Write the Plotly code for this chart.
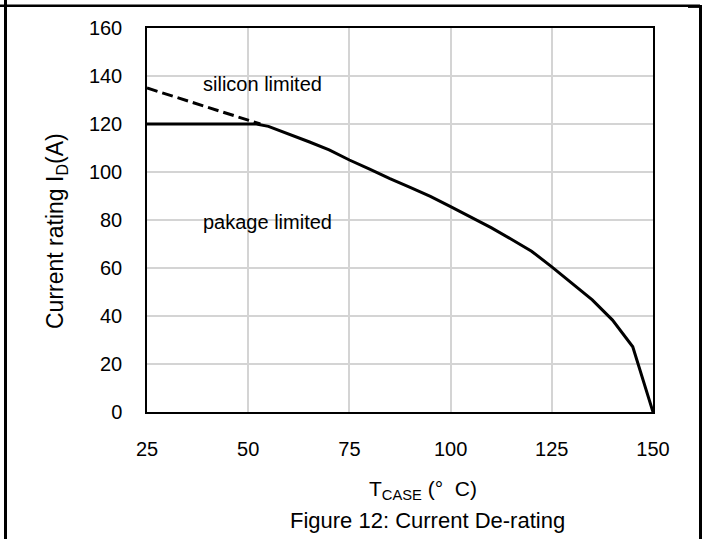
import plotly.graph_objects as go

# ---- data ----
t_package = [25, 52, 55, 60, 65, 70, 75, 80, 85, 90, 95, 100, 105, 110, 115, 120, 125, 130, 135, 140, 145, 150]
i_package = [120, 120, 119, 115.9, 112.6, 109.2, 105, 101.2, 97.2, 93.6, 89.8, 85.6, 81.3, 76.8, 72, 67, 60.5, 53.5, 46.7, 38.3, 27.2, 0]
t_silicon = [25, 53]
i_silicon = [135, 120]
x_ticks = [25, 50, 75, 100, 125, 150]
y_ticks = [0, 20, 40, 60, 80, 100, 120, 140, 160]

W, H = 703, 539
L, R, T, B = 147, 50, 28, 127
PW, PH = W - L - R, H - T - B


def px(x):
    return (x - L) / PW


def py(y):
    return (H - B - y) / PH


FONT = "Liberation Sans, Arial, sans-serif"

fig = go.Figure()
fig.add_trace(go.Scatter(x=t_silicon, y=i_silicon, mode="lines",
                         line=dict(color="black", width=3, dash="11px,5px"),
                         showlegend=False, hoverinfo="skip"))
fig.add_trace(go.Scatter(x=t_package, y=i_package, mode="lines",
                         line=dict(color="black", width=3),
                         showlegend=False, hoverinfo="skip"))

fig.update_layout(
    width=W, height=H, autosize=False,
    margin=dict(l=L, r=R, t=T, b=B, pad=0),
    paper_bgcolor="white", plot_bgcolor="white",
    template="none",
    font=dict(family=FONT, size=20, color="black"),
    xaxis=dict(range=[25, 150], tickvals=x_ticks, showgrid=True, gridcolor="#d4d4d4",
               gridwidth=1.5, zeroline=False, showline=True, linecolor="black",
               linewidth=1.5, mirror=True, ticks="", ticklabelstandoff=18,
               automargin=False, tickfont=dict(size=20)),
    yaxis=dict(range=[0, 160], tickvals=y_ticks, showgrid=True, gridcolor="#d4d4d4",
               gridwidth=1.5, zeroline=False, showline=True, linecolor="black",
               linewidth=1.5, mirror=True, ticks="", ticklabelstandoff=19,
               automargin=False, tickfont=dict(size=20)),
)

ann = [
    dict(text="silicon limited", x=px(262), y=py(84), size=20, angle=0),
    dict(text="pakage limited", x=px(267), y=py(222), size=20, angle=0),
    dict(text="T<sub>CASE</sub> (°  C)", x=px(423), y=py(490), size=21, angle=0),
    dict(text="Figure 12: Current De-rating", x=px(427), y=py(520), size=22, angle=0),
    dict(text="Current rating I<sub>D</sub>(A)", x=px(57), y=py(231), size=23, angle=-90),
]
for a in ann:
    fig.add_annotation(text=a["text"], x=a["x"], y=a["y"], xref="paper", yref="paper",
                       showarrow=False, xanchor="center", yanchor="middle",
                       textangle=a["angle"], font=dict(family=FONT, size=a["size"], color="black"))

# page frame lines
frame = [
    (0, 5.7, 700, 5.7, 2.5),
    (688, 7, 700, 7, 1.8),
    (5.5, 0, 5.5, 539, 3),
    (700.5, 5, 700.5, 539, 3),
]
for x0, y0, x1, y1, w in frame:
    fig.add_shape(type="line", xref="paper", yref="paper",
                  x0=px(x0), y0=py(y0), x1=px(x1), y1=py(y1),
                  line=dict(color="black", width=w), layer="above")

fig.write_html("out.html")
